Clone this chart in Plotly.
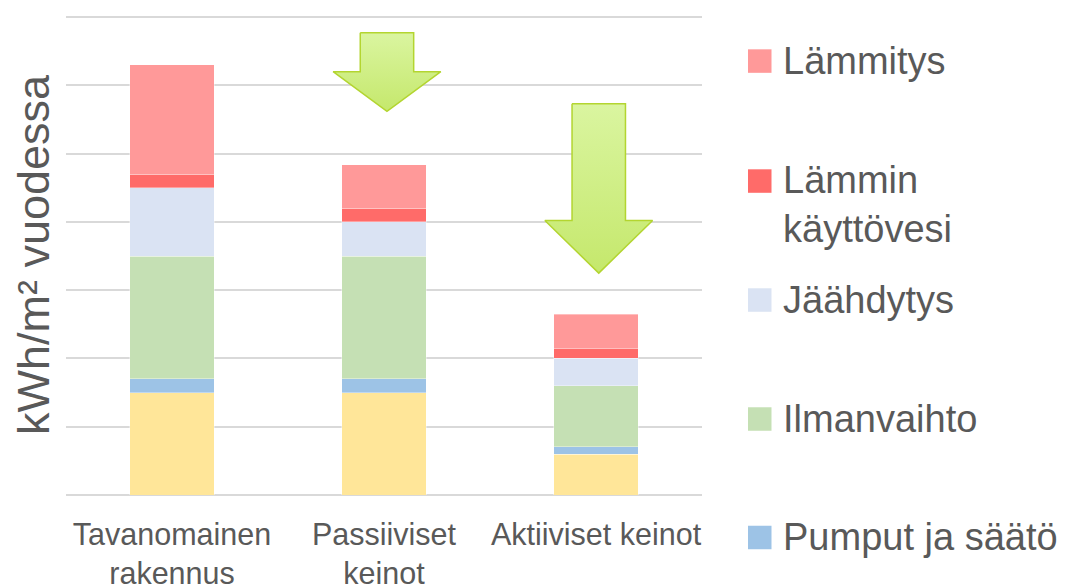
import plotly.graph_objects as go

categories = ["Tavanomainen<br>rakennus", "Passiiviset<br>keinot", "Aktiiviset keinot"]
x_pos = [0, 1, 2]

# stacked series, bottom to top
series_names = ["Muu", "Pumput ja säätö", "Ilmanvaihto", "Jäähdytys", "Lämmin<br>käyttövesi", "Lämmitys"]
muu = [15, 15, 6]
pumput = [2, 2, 1.05]
ilmanvaihto = [18, 18, 8.95]
jaahdytys = [10, 5, 4]
lammin_kv = [2, 2, 1.4]
lammitys = [16, 6.4, 5.1]
series_values = [muu, pumput, ilmanvaihto, jaahdytys, lammin_kv, lammitys]
series_colors = ["#ffe699", "#9dc3e6", "#c5e0b4", "#dae3f3", "#ff6b69", "#ff9999"]

# arrows: (centre x, top y, head y, tip y)
arrows = [(1.014, 67.7, 62.0, 56.2), (2.013, 57.3, 40.2, 32.5)]
shaft_half = 0.126
head_half = 0.254

TEXT = "#595959"
FONT = "Liberation Sans, Arial, sans-serif"

# page offset (browser body margin)
OFF = 8
W, H = 1067 - OFF, 588 - OFF
PX_PER_UNIT = 6.829
Y_MAX = 70.3
plot_l = 66 - OFF
plot_r = 702 - OFF
plot_b = 495 - OFF
plot_t = plot_b - Y_MAX * PX_PER_UNIT

fig = go.Figure()
for name, vals, col in zip(series_names, series_values, series_colors):
    fig.add_trace(go.Bar(
        x=x_pos, y=vals, name=name,
        marker=dict(color=col, line=dict(width=0.8, color="rgba(255,255,255,0.45)")),
        width=0.4, showlegend=False,
    ))

for cx, ytop, yhead, ytip in arrows:
    xs = [cx - shaft_half, cx + shaft_half, cx + shaft_half, cx + head_half, cx,
          cx - head_half, cx - shaft_half, cx - shaft_half]
    ys = [ytop, ytop, yhead, yhead, ytip, yhead, yhead, ytop]
    fig.add_trace(go.Scatter(
        x=xs, y=ys, mode="lines", fill="toself",
        fillgradient=dict(type="vertical", colorscale=[[0, "#c5e86c"], [1, "#daf5a0"]]),
        line=dict(color="#b3d530", width=1.5), hoverinfo="skip", showlegend=False,
    ))

def px_x(px):
    return (px - OFF - plot_l) / (plot_r - plot_l)
def px_y(py):
    return (plot_b - (py - OFF)) / (plot_b - plot_t)

# manual legend with large swatches (reference pixel positions)
legend_centers = [61, 181, 300, 419, 537.5]
legend_order = [5, 4, 3, 2, 1]
for cy, idx in zip(legend_centers, legend_order):
    fig.add_shape(type="rect", xref="paper", yref="paper",
                  x0=px_x(748), x1=px_x(771.5), y0=px_y(cy + 11.75), y1=px_y(cy - 11.75),
                  fillcolor=series_colors[idx], line=dict(width=0))
    multi = "<br>" in series_names[idx]
    fig.add_annotation(xref="paper", yref="paper", x=px_x(781), y=px_y(cy - 24 if multi else cy),
                       text=series_names[idx], showarrow=False, xanchor="left",
                       yanchor="top" if multi else "middle", align="left",
                       font=dict(family=FONT, size=38, color=TEXT))

fig.update_layout(
    width=W, height=H, barmode="stack",
    margin=dict(l=plot_l, r=W - plot_r, t=plot_t, b=H - plot_b, pad=0, autoexpand=False),
    plot_bgcolor="white", paper_bgcolor="white",
    font=dict(family=FONT, color=TEXT),
    showlegend=False,
)
fig.update_xaxes(range=[-0.5, 2.5], tickvals=x_pos, ticktext=categories, showgrid=False,
                 zeroline=False, showline=False, ticks="", ticklabelstandoff=18, automargin=False,
                 tickfont=dict(size=30.5, color=TEXT, family=FONT))
fig.update_yaxes(range=[0, Y_MAX], dtick=10, showticklabels=False, showgrid=True, gridcolor="#d9d9d9",
                 gridwidth=1.5, zeroline=True, zerolinecolor="#d9d9d9", zerolinewidth=1.5, showline=False,
                 automargin=False,
                 title=dict(text="kWh/m² vuodessa", font=dict(size=45, color=TEXT, family=FONT), standoff=7))

fig.write_html("out.html")
